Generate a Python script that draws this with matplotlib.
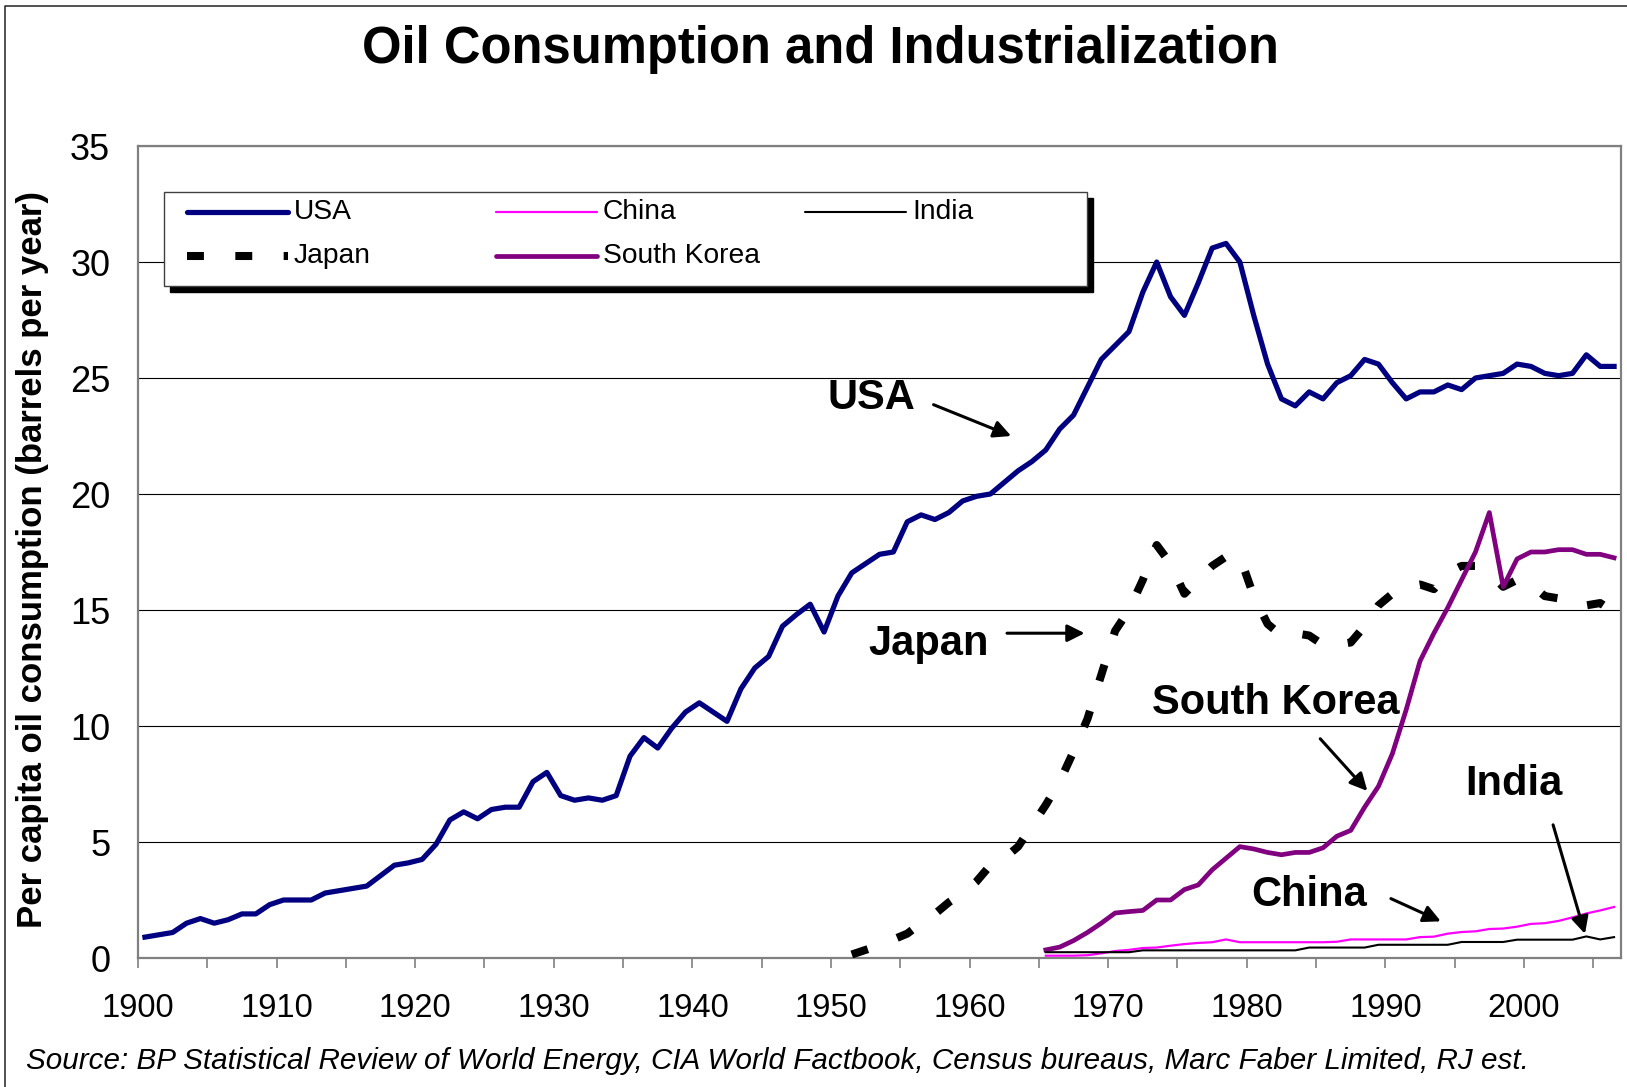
import matplotlib
matplotlib.use("Agg")
import matplotlib.pyplot as plt
import numpy as np
from matplotlib.lines import Line2D
from matplotlib.patches import Rectangle

plt.rcParams['font.family'] = ['Liberation Sans', 'DejaVu Sans']

# per capita oil consumption, barrels per year
usa_years = list(range(1900, 2007))
usa = [0.9, 1.0, 1.1, 1.5, 1.7, 1.5, 1.65, 1.9, 1.9, 2.3,
       2.5, 2.5, 2.5, 2.8, 2.9, 3.0, 3.1, 3.55, 4.0, 4.1,
       4.25, 4.9, 5.95, 6.3, 6.0, 6.4, 6.5, 6.5, 7.6, 8.0,
       7.0, 6.8, 6.9, 6.8, 7.0, 8.7, 9.5, 9.05, 9.9, 10.6,
       11.0, 10.6, 10.2, 11.6, 12.5, 13.0, 14.3, 14.8, 15.25, 14.05,
       15.6, 16.6, 17.0, 17.4, 17.5, 18.8, 19.1, 18.9, 19.2, 19.7,
       19.9, 20.0, 20.5, 21.0, 21.4, 21.9, 22.8, 23.4, 24.6, 25.8,
       26.4, 27.0, 28.7, 30.0, 28.5, 27.7, 29.1, 30.6, 30.8, 30.0,
       27.7, 25.6, 24.1, 23.8, 24.4, 24.1, 24.8, 25.1, 25.8, 25.6,
       24.8, 24.1, 24.4, 24.4, 24.7, 24.5, 25.0, 25.1, 25.2, 25.6,
       25.5, 25.2, 25.1, 25.2, 26.0, 25.5, 25.5]

japan_years = list(range(1951, 2007))
japan = [0.15, 0.35, 0.55, 0.8, 1.05, 1.5, 1.9, 2.4, 2.8,
         3.3, 4.0, 4.3, 4.8, 5.7, 6.6, 7.6, 8.9, 10.3, 12.2,
         14.1, 15.0, 16.3, 17.8, 17.0, 15.7, 16.3, 16.9, 17.3, 17.3,
         15.6, 14.4, 13.9, 14.0, 13.9, 13.5, 13.5, 13.6, 14.3, 15.2,
         15.7, 16.0, 16.1, 15.9, 16.6, 16.9, 16.9, 16.6, 16.0, 16.3,
         16.1, 15.6, 15.5, 15.5, 15.2, 15.3, 14.9]

asia_years = list(range(1965, 2007))
korea = [0.35, 0.47, 0.75, 1.1, 1.5,
         1.94, 2.0, 2.05, 2.5, 2.5, 2.95, 3.15, 3.8, 4.3, 4.8,
         4.7, 4.55, 4.45, 4.55, 4.55, 4.75, 5.25, 5.5, 6.5, 7.4,
         8.8, 10.7, 12.8, 14.0, 15.1, 16.3, 17.5, 19.2, 16.0, 17.2,
         17.5, 17.5, 17.6, 17.6, 17.4, 17.4, 17.25]
china = [0.1, 0.1, 0.1, 0.12, 0.2,
         0.3, 0.35, 0.43, 0.45, 0.53, 0.6, 0.65, 0.68, 0.8, 0.68,
         0.68, 0.68, 0.68, 0.68, 0.68, 0.68, 0.7, 0.8, 0.8, 0.8,
         0.8, 0.8, 0.9, 0.92, 1.05, 1.12, 1.15, 1.25, 1.27, 1.35,
         1.47, 1.5, 1.6, 1.75, 1.92, 2.05, 2.2]
india = [0.25, 0.25, 0.25, 0.25, 0.25,
         0.25, 0.25, 0.33, 0.33, 0.33, 0.33, 0.33, 0.33, 0.33, 0.33,
         0.33, 0.33, 0.33, 0.33, 0.45, 0.45, 0.45, 0.45, 0.45, 0.57,
         0.57, 0.57, 0.57, 0.57, 0.57, 0.69, 0.69, 0.69, 0.69, 0.79,
         0.79, 0.79, 0.79, 0.79, 0.93, 0.8, 0.9]

W, H = 1627, 1087
fig = plt.figure(figsize=(W / 100, H / 100), dpi=100)
ax = fig.add_axes([138 / W, 1 - 958 / H, (1621 - 138) / W, (958 - 146) / H])

# category axis: each year is plotted in the middle of its slot
def c(years):
    return np.array(years) + 0.5

ax.plot(c(usa_years), usa, color='#000080', lw=3.75, solid_joinstyle='round', zorder=5)
ax.plot(c(japan_years), japan, color='black', lw=5.8, dashes=(2.1, 3.9),
        dash_capstyle='butt', zorder=4)
ax.plot(c(asia_years), korea, color='#800080', lw=3.4, solid_joinstyle='round', zorder=5)
ax.plot(c(asia_years), china, color='#FF00FF', lw=1.6, zorder=5)
ax.plot(c(asia_years), india, color='black', lw=1.5, zorder=5)

ax.set_xlim(1900, 2007)
ax.set_ylim(0, 35)
ax.set_yticks(np.arange(0, 36, 5))
ax.set_xticks(np.arange(1900, 2001, 10))
ax.set_xticks(np.arange(1905, 2007, 10), minor=True)
ax.grid(axis='y', color='black', lw=0.8)
ax.set_axisbelow(True)
for s in ax.spines.values():
    s.set_color('#808080')
    s.set_linewidth(1.6)
ax.tick_params(axis='y', length=0, labelsize=26, pad=20)
ax.tick_params(axis='x', which='both', length=7, width=1.2, color='#808080',
               labelsize=23.5, pad=18)

# annotations
bold = dict(fontsize=30, fontweight='bold', ha='center', va='center')
arw = dict(arrowstyle='-|>', color='black', lw=2.2, mutation_scale=26, shrinkA=0, shrinkB=0)
notes = [('USA', (1952.9, 24.12), (1957.4, 23.85), (1963.0, 22.5)),
         ('Japan', (1957.05, 13.52), (1962.7, 14.0), (1968.3, 14.0)),
         ('South Korea', (1982.1, 11.0), (1985.3, 9.45), (1988.7, 7.2)),
         ('India', (1999.3, 7.48), (2002.1, 5.74), (2004.4, 1.04)),
         ('China', (1984.5, 2.7), (1990.4, 2.56), (1994.0, 1.58))]
for txt, pos, tail, head in notes:
    ax.text(pos[0], pos[1], txt, zorder=7, **bold)
    ax.annotate('', xy=head, xytext=tail, arrowprops=arw, zorder=7)

# titles
fig.text(820 / W, 1 - 49 / H, 'Oil Consumption and Industrialization',
         fontsize=36.5, fontweight='bold', ha='center', va='center')
fig.text(33 / W, 1 - 560 / H, 'Per capita oil consumption (barrels per year)',
         fontsize=25, fontweight='bold', rotation=90, ha='center', va='center')
fig.text(26 / W, 1 - 1061 / H,
         'Source: BP Statistical Review of World Energy, CIA World Factbook, '
         'Census bureaus, Marc Faber Limited, RJ est.',
         fontsize=21.35, style='italic', ha='left', va='center')

# legend box drawn by hand (Excel-like equal columns + hard shadow)
def fx(x):
    return x / W

def fy(y):
    return 1 - y / H

fig.add_artist(Rectangle((fx(170), fy(292)), (1087 - 164) / W, (286 - 192) / H,
                         transform=fig.transFigure, facecolor='black',
                         edgecolor='black', zorder=10))
fig.add_artist(Rectangle((fx(164), fy(286)), (1087 - 164) / W, (286 - 192) / H,
                         transform=fig.transFigure, facecolor='white',
                         edgecolor='#404040', lw=1, zorder=11))
entries = [('USA', 187, 212, dict(color='#000080', lw=3.75)),
           ('China', 496, 212, dict(color='#FF00FF', lw=1.6)),
           ('India', 805, 212, dict(color='black', lw=1.5)),
           ('Japan', 187, 256, dict(color='black', lw=5.8, dashes=(2.1, 3.9),
                                    dash_capstyle='butt')),
           ('South Korea', 496, 256, dict(color='#800080', lw=3.4))]
for name, x0, y0, st in entries:
    fig.add_artist(Line2D([fx(x0), fx(x0 + 101)], [fy(y0), fy(y0)],
                          transform=fig.transFigure, solid_capstyle='round',
                          zorder=12, **st))
    fig.text(fx(x0 + 107), fy(y0), name, fontsize=20.3, ha='left',
             va='center', zorder=13)

# outer chart border (only top and left edges fall inside the picture)
fig.add_artist(Line2D([fx(5), fx(5), 1.0], [0.0, fy(6), fy(6)],
                      transform=fig.transFigure, color='#222222', lw=1.1))

fig.savefig('out.png', dpi=100)
